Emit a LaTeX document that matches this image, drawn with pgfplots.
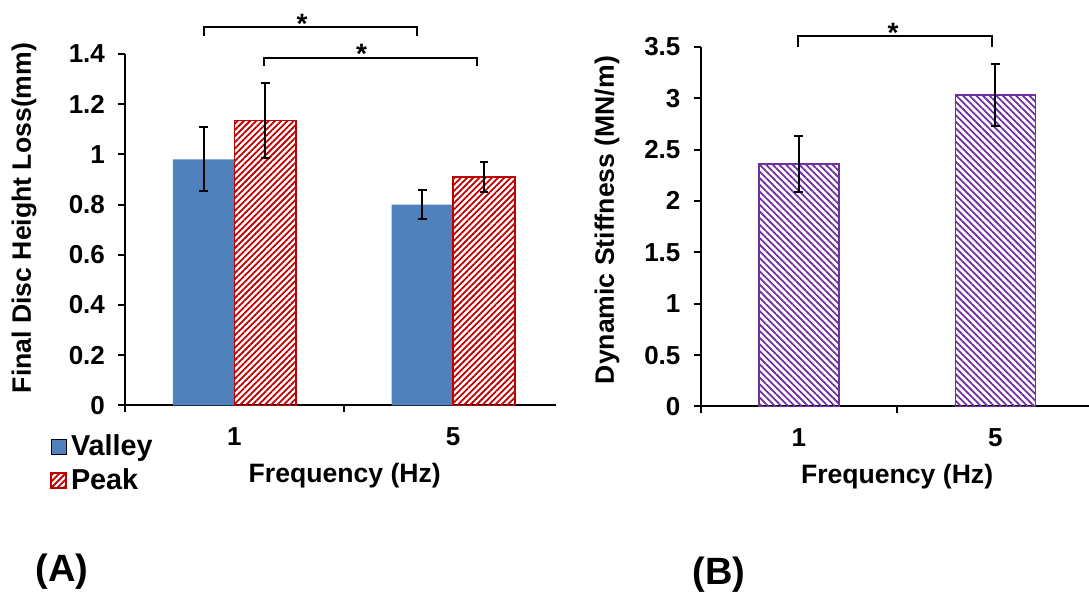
\documentclass[border=0pt]{standalone}
\usepackage{fontspec}
\setmainfont{Liberation Sans}
\usepackage{pgfplots}
\pgfplotsset{compat=1.18}
\usetikzlibrary{patterns.meta}
\definecolor{valley}{HTML}{4F81BD}
\definecolor{peak}{HTML}{C00000}
\definecolor{stiff}{HTML}{7030A0}

\newcommand{\labfont}{\bfseries\fontsize{13.3}{16}\selectfont}
\pgfplotsset{
  panel/.style={
    scale only axis,
    anchor=south west,
    axis x line*=bottom, axis y line*=left,
    axis line style={line width=1pt, black},
    xmin=0.5, ymin=0,
    xtick={1,2}, xticklabels={1,5},
    xtick style={draw=none},
    ytick style={line width=1pt, black},
    tick align=outside, major tick length=3.5pt,
    extra x ticks={0.5,1.5}, extra x tick labels={},
    extra x tick style={xtick style={draw=black, line width=1pt}},
    tick label style={font=\bfseries\fontsize{13}{15}\selectfont},
    /pgf/number format/assume math mode=true,
    yticklabel style={xshift=-3pt},
    xticklabel style={yshift=-4pt},
    every axis y label/.style={rotate=90, anchor=center, font=\labfont},
    every axis x label/.style={anchor=center, font=\labfont},
    clip=false,
    error bars/y dir=both, error bars/y explicit,
    error bars/error bar style={line width=1pt, black},
    error bars/error mark options={rotate=90, line width=1pt, black, mark size=2.2pt},
  },
}

\begin{document}
\begin{tikzpicture}
\path[use as bounding box] (0,0) rectangle (544.5pt,297.5pt);

% (A) disc height loss
\begin{axis}[panel,
  at={(62.5pt,94.75pt)}, width=215.5pt, height=175.85pt,
  xmax=2.47, ymax=1.4,
  ytick={0,0.2,0.4,0.6,0.8,1,1.2,1.4},
  yticklabels={0,0.2,0.4,0.6,0.8,1,1.2,1.4},
  ybar=0pt, bar width=30.8pt,
  ylabel={Final Disc Height Loss(mm)},
  xlabel={Frequency (Hz)},
  ylabel style={at={(axis description cs:-0.234,0.533)}},
  xlabel style={at={(axis description cs:0.51,-0.2)}},
  legend image code/.code={\draw[#1] (0pt,-3.75pt) rectangle (7.5pt,3.75pt);},
  legend style={at={(axis description cs:-0.174,-0.07)}, anchor=north west,
    draw=none, fill=none, inner sep=0pt, row sep=1pt,
    font=\bfseries\fontsize{14.4}{17}\selectfont},
  legend cell align=left,
]
\addplot[fill=valley, draw=none] coordinates {(1,0.98) +- (0,0.128) (2,0.80) +- (0,0.058)};
\addlegendentry{Valley}
\addplot[draw=peak, line width=0.8pt, pattern={Lines[angle=45,distance=2.2pt,line width=0.9pt]}, pattern color=peak]
  coordinates {(1,1.135) +- (0,0.15) (2,0.91) +- (0,0.06)};
\addlegendentry{Peak}
\draw[line width=1pt] (axis cs:0.862,1.47) -- (axis cs:0.862,1.505) -- (axis cs:1.835,1.505) -- (axis cs:1.835,1.47);
\draw[line width=1pt] (axis cs:1.136,1.35) -- (axis cs:1.136,1.384) -- (axis cs:2.11,1.384) -- (axis cs:2.11,1.35);
\node[font=\bfseries\fontsize{14}{16}\selectfont, anchor=base, yshift=-3pt] at (axis cs:1.309,1.505) {*};
\node[font=\bfseries\fontsize{14}{16}\selectfont, anchor=base, yshift=-3pt] at (axis cs:1.581,1.384) {*};
\end{axis}

% (B) dynamic stiffness
\begin{axis}[panel,
  at={(350.25pt,94.25pt)}, width=194.25pt, height=179.9pt,
  xmax=2.476, ymax=3.5,
  ytick={0,0.5,1,1.5,2,2.5,3,3.5},
  yticklabels={0,0.5,1,1.5,2,2.5,3,3.5},
  ybar=0pt, bar width=40pt,
  ylabel={Dynamic Stiffness (MN/m)},
  xlabel={Frequency (Hz)},
  ylabel style={at={(axis description cs:-0.241,0.518)}},
  xlabel style={at={(axis description cs:0.506,-0.196)}},
]
\addplot[draw=stiff, line width=0.8pt, pattern={Lines[angle=-45,distance=2.35pt,line width=0.9pt]}, pattern color=stiff]
  coordinates {(1,2.36) +- (0,0.275) (2,3.03) +- (0,0.303)};
\draw[line width=1pt] (axis cs:0.997,3.5) -- (axis cs:0.997,3.604) -- (axis cs:1.981,3.604) -- (axis cs:1.981,3.5);
\node[font=\bfseries\fontsize{14}{16}\selectfont, anchor=base, yshift=-3pt] at (axis cs:1.479,3.604) {*};
\end{axis}

\node[font=\bfseries\fontsize{19}{22}\selectfont] at (31pt,11.5pt) {(A)};
\node[font=\bfseries\fontsize{19}{22}\selectfont] at (359.5pt,10pt) {(B)};
\end{tikzpicture}
\end{document}
